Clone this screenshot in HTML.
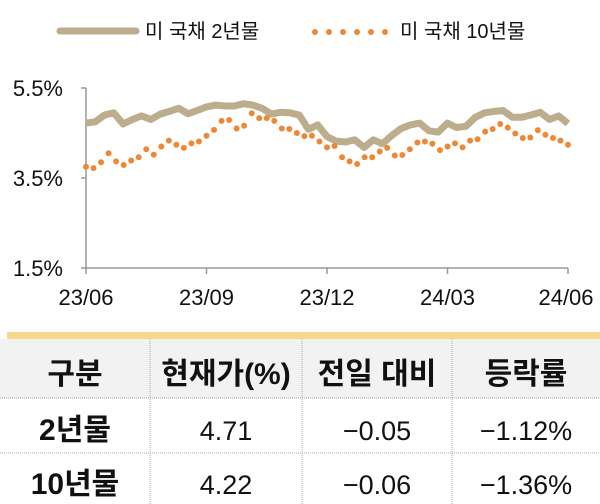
<!DOCTYPE html>
<html><head><meta charset="utf-8"><style>
body{margin:0;width:600px;height:504px;background:#fff;overflow:hidden;font-family:"Liberation Sans","Noto Sans CJK KR",sans-serif;}
svg{position:absolute;left:0;top:0}
</style></head><body>
<svg width="600" height="504">
<g id="legend">
<line x1="60" y1="31" x2="136" y2="31" stroke="#bcae8c" stroke-width="7" stroke-linecap="round"/>
<text x="145" y="38" font-size="20" fill="#111">미 국채 2년물</text>
<g fill="#ed8936">
<circle cx="315" cy="32" r="3"/><circle cx="329" cy="32" r="3"/><circle cx="343" cy="32" r="3"/><circle cx="357" cy="32" r="3"/><circle cx="371" cy="32" r="3"/><circle cx="385" cy="32" r="3"/></g>
<text x="400" y="38" font-size="20" fill="#111">미 국채 10년물</text>
</g>
<g id="axes"></g>
<g id="series"></g>
<rect x="7" y="332" width="593" height="7" fill="#f7d98e"/>
<rect x="0" y="339" width="600" height="59" fill="#f2f2f2"/>
<g stroke="#aaa" stroke-width="1" stroke-dasharray="1,1">
<line x1="0" y1="398" x2="600" y2="398"/><line x1="0" y1="453" x2="600" y2="453"/>
<line x1="150" y1="339" x2="150" y2="504"/><line x1="302" y1="339" x2="302" y2="504"/><line x1="452" y1="339" x2="452" y2="504"/>
</g>
<g font-size="30" font-weight="bold" fill="#111" text-anchor="middle">
<text x="75" y="384">구분</text>
<text x="226" y="384">현재가(%)</text>
<text x="377" y="384">전일 대비</text>
<text x="526" y="384">등락률</text>
<text x="75" y="440">2년물</text>
<text x="75" y="494">10년물</text>
</g>
<g font-size="27" fill="#111" text-anchor="middle">
<text x="226" y="440">4.71</text>
<text x="377" y="440">−0.05</text>
<text x="526" y="440">−1.12%</text>
<text x="226" y="494">4.22</text>
<text x="377" y="494">−0.06</text>
<text x="526" y="494">−1.36%</text>
</g>
</svg>
<script>
const yTicks=[5.5,3.5,1.5];
const yTickLabels=["5.5%","3.5%","1.5%"];
const xTickLabels=["23/06","23/09","23/12","24/03","24/06"];
const y2=[4.72,4.75,4.90,4.95,4.70,4.80,4.88,4.80,4.92,4.98,5.05,4.93,5.00,5.08,5.12,5.10,5.10,5.15,5.12,5.05,4.92,4.96,4.95,4.90,4.58,4.68,4.42,4.32,4.30,4.35,4.18,4.35,4.26,4.45,4.60,4.68,4.72,4.55,4.52,4.72,4.62,4.65,4.85,4.95,4.98,5.00,4.85,4.85,4.90,4.96,4.80,4.88,4.71];
const y10=[3.75,3.72,3.85,4.05,3.87,3.79,3.89,3.96,4.14,4.02,4.20,4.33,4.24,4.17,4.27,4.31,4.44,4.57,4.77,4.79,4.60,4.66,4.94,4.83,4.83,4.77,4.60,4.59,4.50,4.43,4.44,4.31,4.18,4.21,3.96,3.87,3.81,3.96,3.96,4.09,4.17,4.00,4.01,4.14,4.29,4.31,4.26,4.12,4.20,4.27,4.18,4.33,4.36,4.53,4.59,4.70,4.62,4.49,4.39,4.40,4.56,4.46,4.39,4.33,4.24];
const X0=86,X1=568,YTOP=88,YBOT=268,VMIN=1.5,VMAX=5.5;
const NS='http://www.w3.org/2000/svg';
function yS(v){return YBOT-(v-VMIN)/(VMAX-VMIN)*(YBOT-YTOP);}
function xS(f){return X0+f*(X1-X0);}
function mk(t,a,p){const e=document.createElementNS(NS,t);for(const k in a)e.setAttribute(k,a[k]);p.appendChild(e);return e;}
const ax=document.getElementById('axes');
const yl=mk('line',{x1:X0,y1:YTOP,x2:X0,y2:YBOT,stroke:'#999','stroke-width':1.5},ax);


const xl=mk('line',{x1:X0,y1:YBOT,x2:X1,y2:YBOT,stroke:'#999','stroke-width':1.5},ax);


yTicks.forEach((v,i)=>{
 mk('line',{x1:X0-5,y1:yS(v),x2:X0,y2:yS(v),stroke:'#999','stroke-width':1.5},ax);
 const t=mk('text',{x:X0-23,y:yS(v)+8,'font-size':22,'text-anchor':'end',fill:'#111'},ax);
 t.textContent=yTickLabels[i];
 
 
});
xTickLabels.forEach((s,i)=>{
 const x=xS(i/(xTickLabels.length-1));
 mk('line',{x1:x,y1:YBOT,x2:x,y2:YBOT+6,stroke:'#999','stroke-width':1.5},ax);
 const t=mk('text',{x:Math.min(x,566),y:YBOT+37,'font-size':22,'text-anchor':'middle',fill:'#111'},ax);
 t.textContent=s;
 
 
});
const sg=document.getElementById('series');
const pts=y2.map((v,i)=>xS(i/(y2.length-1)).toFixed(1)+','+yS(v).toFixed(1)).join(' ');
const pl=mk('polyline',{points:pts,fill:'none',stroke:'#bcae8c','stroke-width':7,'stroke-linejoin':'round'},sg);


y10.forEach((v,i)=>{
 const c=mk('circle',{cx:xS(i/(y10.length-1)),cy:yS(v),r:3,fill:'#ed8936'},sg);
 
 
});
</script>
</body></html>
